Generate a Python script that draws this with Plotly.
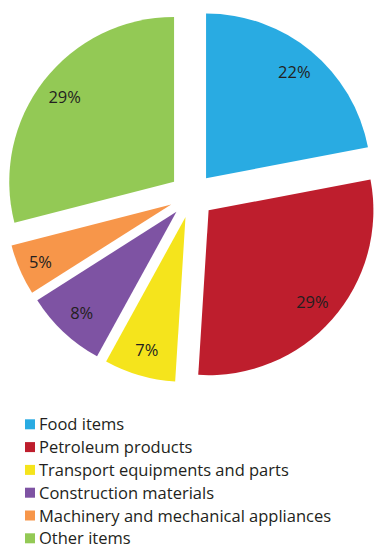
import plotly.graph_objects as go

# Share of imports by commodity group
categories = [
    "Food items",
    "Petroleum products",
    "Transport equipments and parts",
    "Construction materials",
    "Machinery and mechanical appliances",
    "Other items",
]
shares = [22, 29, 7, 8, 5, 29]
colors = ["#29ABE2", "#BE1E2D", "#F5E41C", "#7E53A3", "#F7964A", "#93C955"]

W, H = 379, 550
FONT = "Open Sans"
TEXT_COLOR = "#231F20"
PULL = [0.136] * len(shares)
DOMAIN = dict(x=[0.012, 1.0], y=[0.2995, 0.9895])

fig = go.Figure()

# Exploded pie with coloured wedges
fig.add_trace(
    go.Pie(
        labels=categories,
        values=shares,
        marker=dict(colors=colors, line=dict(width=0)),
        sort=False,
        direction="clockwise",
        rotation=0,
        pull=PULL,
        textinfo="none",
        domain=DOMAIN,
        hoverinfo="skip",
        showlegend=False,
    )
)

# Transparent ring on top, used only to place the percentage labels
# towards the outer part of each wedge
fig.add_trace(
    go.Pie(
        labels=categories,
        values=shares,
        marker=dict(colors=["rgba(0,0,0,0)"] * len(shares), line=dict(width=0)),
        hole=0.68,
        sort=False,
        direction="clockwise",
        rotation=0,
        pull=PULL,
        texttemplate="%{value}%",
        textposition="inside",
        insidetextorientation="horizontal",
        textfont=dict(family=FONT, size=16.5, color=TEXT_COLOR),
        domain=DOMAIN,
        hoverinfo="skip",
        showlegend=False,
    )
)

# Legend: square swatch followed by the category name
legend_left = 25      # px
swatch = 10           # px
first_row = 424.3     # px from top
row_step = 22.8       # px
shapes, annotations = [], []
for i, (name, col) in enumerate(zip(categories, colors)):
    yc = first_row + i * row_step
    shapes.append(
        dict(
            type="rect", xref="paper", yref="paper",
            x0=legend_left / W, x1=(legend_left + swatch) / W,
            y0=1 - (yc + swatch / 2) / H, y1=1 - (yc - swatch / 2) / H,
            fillcolor=col, line=dict(width=0),
        )
    )
    annotations.append(
        dict(
            text=name, xref="paper", yref="paper",
            x=(legend_left + swatch + 2) / W, y=1 - (yc - 0.5) / H,
            xanchor="left", yanchor="middle", showarrow=False,
            font=dict(family=FONT, size=16.5, color=TEXT_COLOR),
        )
    )

fig.update_layout(
    width=W,
    height=H,
    margin=dict(l=0, r=0, t=0, b=0),
    paper_bgcolor="white",
    plot_bgcolor="white",
    showlegend=False,
    shapes=shapes,
    annotations=annotations,
)

fig.write_html("out.html")
